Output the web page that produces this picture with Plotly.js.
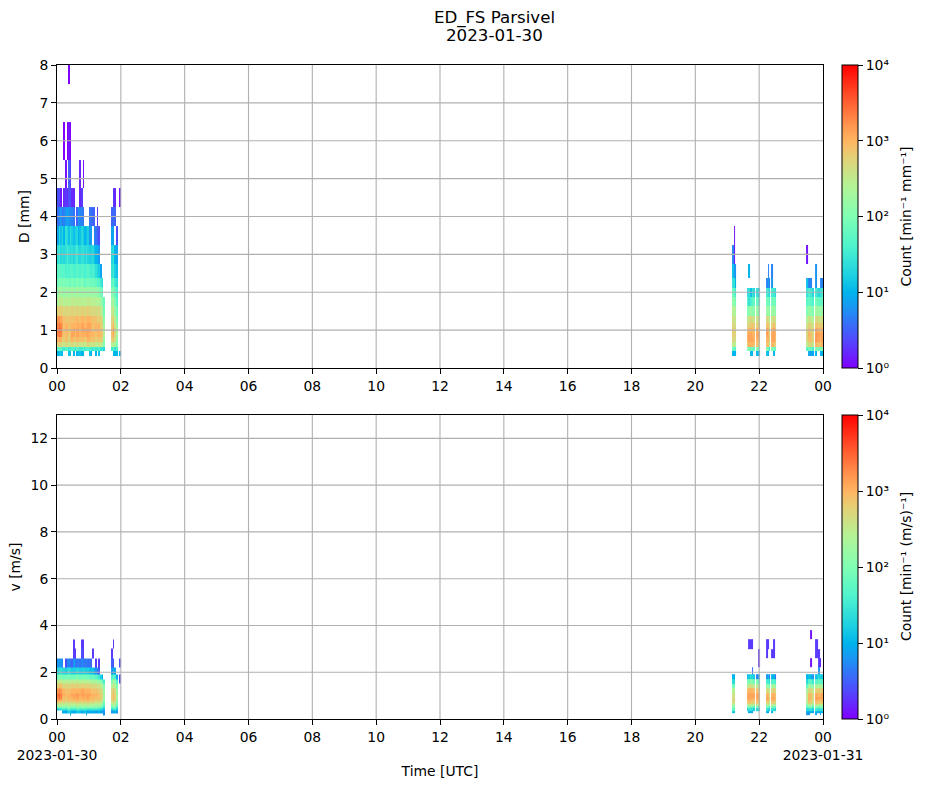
<!DOCTYPE html>
<html>
<head>
<meta charset="utf-8">
<script src="https://cdn.plot.ly/plotly-3.0.1.min.js"></script>
<style>html,body{margin:0;padding:0;background:#fff}#plot{width:927px;height:788px}</style>
</head>
<body>
<div id="plot"></div>
<script>
const _ = null;
// All matrices: log10(count) x 10. Rows are size / speed classes, columns are time.
// Class edges: the reference paints each cell from its class centre to the next one.
const dEdges = [0.312,0.437,0.562,0.687,0.812,0.937,1.062,1.187,1.375,1.625,1.875,2.125,2.375,2.75,3.25,3.75,4.25,4.75,5.5,6.5,7.5,8.5];
const vEdges = [0.15,0.25,0.35,0.45,0.55,0.65,0.75,0.85,0.95,1.1,1.3,1.5,1.7,1.9,2.2,2.6,3.0,3.4,3.8];
// Time edges in minutes after 00 UTC
const morningEdges = [0,3,6,9,12,15,18,21,24,27,30,33,36,39,42,45,48,51,54,57,60,63,66,69,72,75,78,81,84,87,90,93,96,99,102,105,108,111,114,117,120];
const eveningEdges = [1269,1272,1275,1277,1297,1300,1303,1306,1309,1312,1314,1317,1321,1333,1336,1339,1341,1343,1346,1349,1352,1408,1411,1412,1416,1419,1423,1425,1428,1431,1434,1437,1440];

const dMorning = [
[10,11,11,10,_,_,_,11,11,_, 10,_,10,11,11,10,10,_,_,_, 11,10,_,_,10,_,11,_,_,_, _,_,_,_, _,10,10,10,_,10],
[17,18,17,16,15,17,16,15,15,17, 16,15,17,16,15,15,17,15,17,16, 16,15,15,16,15,15,16,14,15,13, _,_,_,_, 15,17,14,16,_,_],
[27,28,27,26,25,27,26,26,25,27, 26,25,27,26,26,25,26,25,26,27, 26,25,26,26,25,24,26,25,24,20, _,_,_,_, 24,25,23,20,_,_],
[30,31,30,28,28,29,29,27,29,30, 29,28,30,29,29,29,30,28,29,30, 30,28,29,29,28,28,29,28,28,22, _,_,_,_, 28,29,26,22,_,_],
[33,34,33,30,29,29,30,28,29,31, 31,29,31,31,30,30,31,30,31,31, 30,30,30,29,29,30,30,29,29,24, _,_,_,_, 29,31,27,23,_,_],
[34,35,34,31,29,30,30,29,29,30, 31,30,31,31,30,31,32,31,31,31, 31,30,29,29,30,30,30,29,28,24, _,_,_,_, 29,31,27,23,_,_],
[33,34,33,31,29,30,30,29,29,30, 30,30,30,31,30,31,31,30,30,31, 31,30,29,29,30,29,30,28,27,23, _,_,_,_, 28,30,26,22,_,_],
[32,32,31,30,29,29,28,29,29,29, 29,29,30,29,29,30,30,29,30,30, 30,29,29,29,29,28,28,28,26,21, _,_,_,_, 27,28,25,20,_,_],
[28,28,28,28,27,27,28,27,27,28, 27,27,28,27,27,28,28,27,28,28, 27,27,27,27,27,26,27,25,24,19, _,_,_,_, 25,26,22,19,_,_],
[24,25,25,25,24,24,25,24,24,25, 25,24,25,24,25,24,25,24,25,25, 25,24,24,25,24,24,24,22,21,18, _,_,_,_, 22,24,20,17,_,_],
[22,23,23,22,22,22,23,22,22,23, 22,22,23,22,22,22,23,22,22,22, 22,22,22,22,22,21,21,19,18,_, _,_,_,_, 20,21,18,16,_,_],
[19,20,20,19,20,19,20,19,18,20, 19,19,20,19,19,20,19,18,19,19, 19,18,19,18,18,17,17,15,13,_, _,_,_,_, 17,19,15,14,_,_],
[17,18,17,17,17,16,17,16,17,17, 16,16,17,17,16,17,16,16,16,17, 16,15,16,15,14,13,12,9,_,_, _,_,_,_, 14,15,12,11,_,_],
[14,15,13,14,13,14,15,14,13,14, 13,14,15,13,13,14,14,13,14,13, 12,13,13,11,10,10,8,_,_,_, _,_,_,_, 13,14,10,9,_,_],
[9,13,11,13,10,14,13,11,14,12, 11,12,13,10,11,13,12,10,11,12, 8,9,_,7,6,5,4,_,_,_, _,_,_,_, 9,9,_,4,_,_],
[6,7,8,6,7,8,9,8,7,7, 6,_,5,8,7,7,6,_,_,_, 6,6,5,5,_,3,_,_,_,_, _,_,_,_, 5,6,5,_,_,_],
[4,4,1,_,2,3,2,4,4,2, 2,_,_,_,2,3,_,_,_,_, _,_,_,_,_,_,_,_,_,_, _,_,_,_, _,3,2,_,_,1],
[_,_,_,_,_,1,_,5,3,_, _,_,_,_,2,_,1,_,_,_, _,_,_,_,_,_,_,_,_,_, _,_,_,_, _,_,_,_,_,_],
[_,_,_,_,0,_,0,1,0,_, _,_,_,_,_,_,_,_,_,_, _,_,_,_,_,_,_,_,_,_, _,_,_,_, _,_,_,_,_,_],
[_,_,_,_,_,_,_,_,_,_, _,_,_,_,_,_,_,_,_,_, _,_,_,_,_,_,_,_,_,_, _,_,_,_, _,_,_,_,_,_],
[_,_,_,_,_,_,_,0,_,_, _,_,_,_,_,_,_,_,_,_, _,_,_,_,_,_,_,_,_,_, _,_,_,_, _,_,_,_,_,_]
];

const dEvening = [
[10,10,10,_, _,_,10,10,_,_, 10,10,_, 11,10,_,_, _,10,_,_, _,_, 9,9,9,_, 10,_,_,10,10],
[18,18,16,_, 20,20,19,18,18,_, 20,19,_, 20,19,15,_, 20,19,18,_, 17,_, 19,18,16,_, 20,20,19,19,20],
[25,25,24,_, 28,30,30,30,29,_, 29,28,_, 29,29,25,_, 30,29,28,_, 25,_, 27,27,25,_, 30,29,29,29,30],
[27,27,26,_, 30,31,31,31,30,_, 30,30,_, 30,30,27,_, 31,31,29,_, 27,_, 29,29,27,_, 32,31,31,30,31],
[28,28,27,_, 30,31,31,30,30,_, 31,31,_, 31,30,28,_, 31,31,30,_, 27,_, 30,29,27,_, 32,32,31,31,31],
[28,28,27,_, 29,30,30,30,29,_, 30,30,_, 31,30,27,_, 30,31,29,_, 27,_, 29,28,27,_, 31,31,30,30,30],
[27,27,26,_, 27,28,28,29,28,_, 28,28,_, 29,29,26,_, 28,29,27,_, 26,_, 28,27,26,_, 29,29,28,29,28],
[26,26,25,_, 25,26,27,26,26,_, 26,26,_, 27,26,25,_, 26,27,25,_, 24,_, 26,25,24,_, 27,27,26,26,26],
[24,24,23,_, 20,21,22,21,21,_, 22,21,_, 22,22,21,_, 22,22,21,_, 20,_, 22,21,20,_, 23,22,22,22,22],
[21,21,19,_, 17,14,16,17,18,_, 18,16,_, 19,19,17,_, 19,19,18,_, 17,_, 18,17,16,_, 19,18,18,17,18],
[18,18,15,_, 13,14,11,15,13,_, 14,12,_, 15,14,13,_, 15,15,13,_, 14,_, 16,15,13,_, 15,14,13,14,15],
[14,14,10,_, _,_,_,_,_,_, _,_,_, 7,9,6,_, 8,_,_,_, 11,_, 7,7,_,_, 8,_,_,7,7],
[11,8,8,_, _,10,_,_,_,_, _,_,_, _,7,_,_, 7,_,_,_, _,_, _,_,_,_, 8,_,_,_,_],
[7,1,_,_, _,_,_,_,_,_, _,_,_, _,_,_,_, _,_,_,_, 1,_, _,_,_,_, _,_,_,_,_],
[_,1,_,_, _,_,_,_,_,_, _,_,_, _,_,_,_, _,_,_,_, _,_, _,_,_,_, _,_,_,_,_]
];

const vMorning = [
[_,_,_,_,_,_,_,_,9,_, _,_,_,_,_,_,_,_,9,_, _,_,_,_,_,_,_,_,_,8, _,_,_,_, _,_,_,_,_,_],
[_,_,_,9,10,9,11,12,11,10, 9,10,11,12,11,9,10,11,10,9, 10,10,9,10,9,9,10,9,8,8, _,_,_,_, 8,9,10,8,_,_],
[12,13,14,15,15,14,16,17,15,15, 15,14,16,17,15,15,16,15,15,14, 14,15,15,14,15,14,14,13,12,11, _,_,_,_, 13,15,15,12,_,_],
[19,20,19,20,20,19,21,21,20,19, 20,19,21,21,20,20,21,20,20,21, 20,19,20,19,20,19,19,18,17,14, _,_,_,_, 18,20,19,15,_,_],
[24,25,24,24,24,23,24,25,24,24, 24,23,25,25,24,24,25,24,24,25, 24,23,24,24,23,23,24,22,21,17, _,_,_,_, 22,24,23,19,_,_],
[28,28,27,27,27,26,27,27,26,27, 27,26,28,27,27,27,28,27,27,27, 27,26,27,26,26,26,26,25,24,19, _,_,_,_, 25,27,25,21,_,_],
[31,31,30,29,29,28,29,29,28,29, 29,29,30,30,29,29,30,29,29,30, 29,28,29,28,28,28,28,27,26,21, _,_,_,_, 27,29,27,22,_,_],
[33,34,33,30,29,29,29,30,29,30, 31,30,31,31,30,30,31,30,31,31, 30,29,30,29,29,29,29,28,27,22, _,_,_,_, 28,30,28,23,_,_],
[34,35,33,31,30,30,29,30,30,31, 31,31,32,31,31,31,32,31,31,31, 31,30,30,30,30,30,29,28,27,23, _,_,_,_, 28,30,28,23,_,_],
[32,33,32,30,30,29,29,29,29,30, 30,30,30,30,30,31,31,30,30,30, 30,29,29,29,29,29,28,27,26,22, _,_,_,_, 27,29,27,22,_,_],
[28,29,29,28,27,27,28,27,27,28, 28,27,28,28,27,28,28,27,28,28, 27,27,27,26,27,26,26,25,24,20, _,_,_,_, 24,26,24,20,_,_],
[24,25,25,24,24,24,24,24,24,25, 24,24,25,24,24,24,24,24,24,24, 24,23,23,23,23,22,22,20,19,15, _,_,_,_, 20,23,21,16,_,4],
[19,20,20,19,19,19,20,19,19,19, 19,19,20,19,19,19,20,19,19,19, 18,18,18,18,17,16,15,12,10,_, _,_,_,_, 16,18,16,9,_,4],
[13,14,14,13,13,12,13,14,13,12, 12,12,13,13,12,12,13,12,12,12, 11,11,11,9,8,7,5,_,_,_, _,_,_,_, 8,10,9,_,_,_],
[8,8,8,7,_,4,7,7,6,5, 8,7,6,7,6,7,7,6,7,6, 6,5,_,_,3,_,3,_,_,_, _,_,_,_, 5,4,_,_,_,4],
[_,_,_,_,_,_,_,_,_,_, 3,3,_,_,_,4,3,_,_,_, _,_,3,_,_,_,_,_,_,_, _,_,_,_, 3,_,_,_,_,_],
[_,_,_,_,_,_,_,_,_,_, 3,_,_,_,_,3,3,_,_,_, _,_,_,_,_,_,_,_,_,_, _,_,_,_, _,3,_,_,_,_]
];

const vEvening = [
[_,_,_,_, _,_,_,_,_,_, _,_,_, _,_,_,_, _,_,_,_, 8,_, 8,_,_,_, 9,_,_,8,_],
[11,11,_,_, _,9,10,9,_,_, _,_,_, 10,9,_,_, 10,_,_,_, 9,_, 9,10,9,_, 10,9,9,10,10],
[17,17,_,_, 12,14,14,13,12,_, 13,12,_, 14,13,12,_, 14,14,12,_, 13,_, 14,14,12,_, 15,14,14,14,15],
[20,20,_,_, 18,19,18,18,17,_, 19,17,_, 19,18,17,_, 19,19,17,_, 17,_, 19,19,17,_, 20,19,19,19,20],
[23,23,_,_, 24,25,24,24,23,_, 25,23,_, 24,23,21,_, 24,24,22,_, 21,_, 24,24,21,_, 25,25,24,24,24],
[26,26,_,_, 28,29,28,28,27,_, 29,27,_, 28,27,25,_, 28,28,26,_, 24,_, 28,27,25,_, 29,29,28,28,28],
[27,27,_,_, 30,30,30,29,29,_, 30,29,_, 30,30,27,_, 30,30,29,_, 25,_, 30,29,26,_, 31,30,30,30,30],
[27,27,_,_, 31,31,31,31,30,_, 31,30,_, 31,30,28,_, 31,31,29,_, 25,_, 30,29,27,_, 32,31,31,31,31],
[26,26,_,_, 31,31,31,31,31,_, 31,30,_, 30,29,27,_, 30,30,29,_, 25,_, 30,29,27,_, 31,30,30,30,31],
[24,24,_,_, 29,30,30,30,29,_, 29,28,_, 27,26,25,_, 27,28,26,_, 23,_, 27,27,25,_, 28,28,28,27,28],
[19,19,_,_, 25,26,26,26,25,_, 25,24,_, 22,21,20,_, 23,23,21,_, 18,_, 23,22,21,_, 24,23,24,23,23],
[13,13,_,_, 19,20,21,20,19,_, 20,18,_, 15,15,14,_, 16,17,15,_, 13,_, 17,17,15,_, 17,17,18,17,17],
[10,10,_,_, 10,12,13,13,12,_, 7,9,_, 8,11,6,_, 10,10,6,_, 10,_, 11,10,8,_, 11,12,13,12,12],
[_,_,_,_, _,_,_,6,_,_, _,_,_, _,_,_,_, _,_,_,_, _,_, _,_,_,_, _,_,8,_,_],
[_,_,_,_, _,_,_,_,_,_, _,2,_, _,_,_,_, _,_,_,_, _,_, _,1,_,_, _,_,3,2,_],
[_,_,_,_, _,_,_,_,_,_, _,2,_, 3,_,_,_, 3,3,_,_, _,_, _,_,_,_, 3,3,3,_,_],
[_,_,_,_, _,3,3,3,_,_, _,_,_, 3,3,_,_, _,3,_,_, _,_, _,_,_,_, 3,3,_,_,_],
[_,_,_,_, _,_,_,_,_,_, _,_,_, _,_,_,_, _,_,_,_, _,_, _,1,_,_, _,_,_,_,_]
];

// Tick labels
const hourTicks = [0,120,240,360,480,600,720,840,960,1080,1200,1320,1440];
const hourLabelsTop = ["00","02","04","06","08","10","12","14","16","18","20","22","00"];
const hourLabelsBottom = ["00<br>2023-01-30","02","04","06","08","10","12","14","16","18","20","22","00<br>2023-01-31"];
const dTicks = [0,1,2,3,4,5,6,7,8];
const vTicks = [0,2,4,6,8,10,12];
const barTicks = [0,10,20,30,40];
const barLabels = ["10⁰","10¹","10²","10³","10⁴"];
const rainbow = [
 [0,"rgb(128,0,255)"],[0.1,"rgb(77,79,252)"],[0.2,"rgb(26,150,243)"],[0.25,"rgb(0,180,236)"],[0.3,"rgb(26,206,227)"],
 [0.4,"rgb(77,243,206)"],[0.5,"rgb(128,255,180)"],[0.6,"rgb(179,243,150)"],[0.7,"rgb(230,206,116)"],[0.75,"rgb(255,180,98)"],
 [0.8,"rgb(255,150,79)"],[0.9,"rgb(255,79,40)"],[1,"rgb(255,0,0)"]
];

const W = 927, H = 788;
const FONT = "DejaVu Sans, sans-serif";
const TXT = "#000";
const px = v => v / W, py = v => 1 - v / H;

function bar(top, bottom) {
  return {
    x: px(842), xanchor: "left", xref: "paper", xpad: 0, ypad: 0,
    y: py((top + bottom) / 2), yanchor: "middle", yref: "paper",
    len: (bottom - top) / H, lenmode: "fraction",
    thickness: 16, thicknessmode: "pixels",
    outlinewidth: 1, outlinecolor: "#000", borderwidth: 0,
    tickmode: "array", tickvals: barTicks, ticktext: barLabels,
    ticks: "outside", ticklen: 5, tickwidth: 1, tickcolor: "#000",
    tickfont: {family: FONT, size: 13.9, color: TXT}
  };
}
function heat(x, y, z, xa, ya, cb) {
  const t = {type: "heatmap", x, y, z, xaxis: xa, yaxis: ya, colorscale: rainbow, zmin: 0, zmax: 40,
             hoverongaps: false, zsmooth: false, showscale: !!cb};
  if (cb) t.colorbar = cb;
  return t;
}
const traces = [
  heat(morningEdges, dEdges, dMorning, "x", "y", bar(65, 368)),
  heat(eveningEdges, dEdges.slice(0, dEvening.length + 1), dEvening, "x", "y"),
  heat(morningEdges, vEdges.slice(0, vMorning.length + 1), vMorning, "x2", "y2", bar(415, 719)),
  heat(eveningEdges, vEdges.slice(0, vEvening.length + 1), vEvening, "x2", "y2")
];

function xAxis(labels, anchor) {
  return {domain: [px(57), px(823)], range: [0, 1440], anchor, tickmode: "array", tickvals: hourTicks, ticktext: labels,
    showgrid: false, zeroline: false, showline: true, mirror: true, linecolor: "#000", linewidth: 1,
    ticks: "outside", ticklen: 5, tickwidth: 1, tickcolor: "#000", tickangle: 0,
    tickfont: {family: FONT, size: 13.9, color: TXT}};
}
function yAxis(top, bottom, range, ticks, titleText, anchor) {
  return {domain: [py(bottom), py(top)], range, anchor, tickmode: "array", tickvals: ticks, ticktext: ticks.map(String),
    showgrid: false, zeroline: false, showline: true, mirror: true, linecolor: "#000", linewidth: 1,
    ticks: "outside", ticklen: 5, tickwidth: 1, tickcolor: "#000",
    tickfont: {family: FONT, size: 13.9, color: TXT},
    title: {text: titleText, font: {family: FONT, size: 13.9, color: TXT}, standoff: 6}};
}
// Grid sits above the cells, as in the reference
const gridStyle = {color: "#b0b0b0", width: 1.1};
const shapes = [];
function addGrid(xa, ya, yTicks, yMax) {
  hourTicks.slice(1, -1).forEach(t => shapes.push({type: "line", layer: "above", xref: xa, yref: ya + " domain", x0: t, x1: t, y0: 0, y1: 1, line: gridStyle}));
  yTicks.filter(t => t > 0 && t < yMax).forEach(t => shapes.push({type: "line", layer: "above", xref: xa + " domain", yref: ya, x0: 0, x1: 1, y0: t, y1: t, line: gridStyle}));
}
addGrid("x", "y", dTicks, 8);
addGrid("x2", "y2", vTicks, 13);

function barTitle(top, bottom, text) {
  return {text, xref: "paper", yref: "paper", x: px(906), y: py((top + bottom) / 2), xanchor: "center", yanchor: "middle",
          textangle: -90, showarrow: false, font: {family: FONT, size: 13.9, color: TXT}};
}

const layout = {
  width: W, height: H, margin: {l: 0, r: 0, t: 0, b: 0}, paper_bgcolor: "#fff", plot_bgcolor: "#fff",
  showlegend: false, font: {family: FONT, size: 13.9, color: TXT},
  title: {text: "ED_FS Parsivel", x: 494.5 / W, xanchor: "center", xref: "paper", y: 1 - 17 / H, yanchor: "middle", yref: "container",
          font: {family: FONT, size: 16.67, color: TXT}},
  xaxis: xAxis(hourLabelsTop, "y"),
  yaxis: yAxis(65, 368, [0, 8], dTicks, "D [mm]", "x"),
  xaxis2: Object.assign(xAxis(hourLabelsBottom, "y2"), {title: {text: "Time [UTC]", font: {family: FONT, size: 13.9, color: TXT}, standoff: 4}}),
  yaxis2: yAxis(415, 719, [0, 13], vTicks, "v [m/s]", "x2"),
  annotations: [
    {text: "2023-01-30", xref: "paper", yref: "paper", x: px(494.5), y: py(35.5), xanchor: "center", yanchor: "middle",
     showarrow: false, font: {family: FONT, size: 16.67, color: TXT}},
    barTitle(65, 368, "Count [min⁻¹ mm⁻¹]"),
    barTitle(415, 719, "Count [min⁻¹ (m/s)⁻¹]")
  ],
  shapes
};
Plotly.newPlot("plot", traces, layout, {displayModeBar: false, responsive: false});
</script>
</body>
</html>
